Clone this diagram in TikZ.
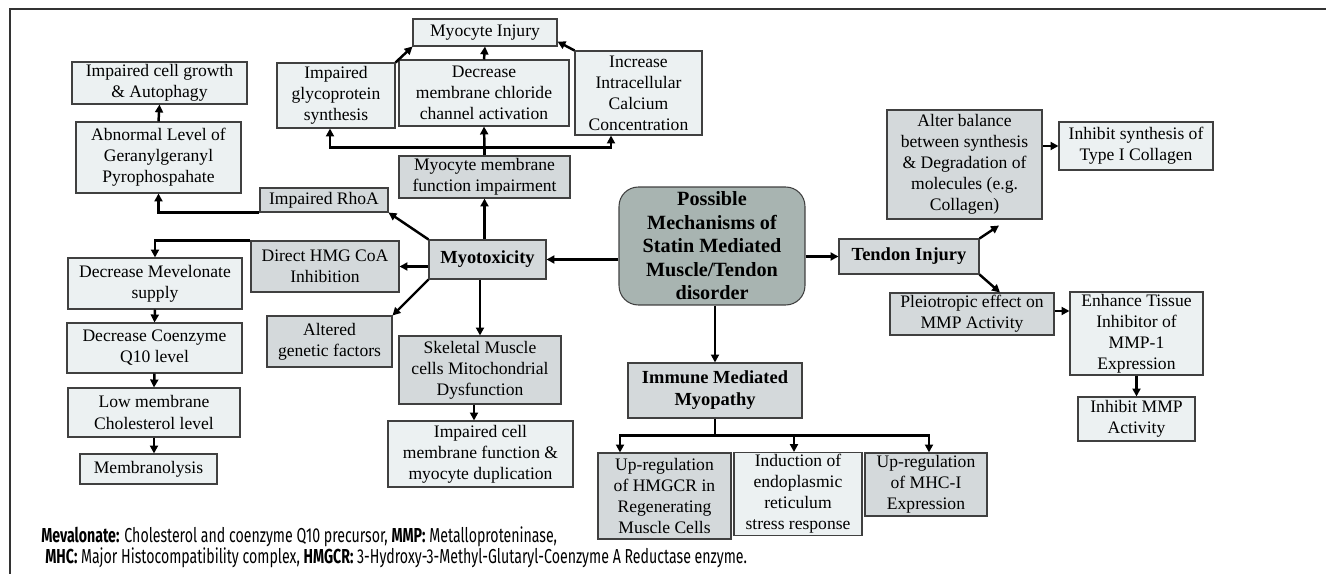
\documentclass[tikz,border=0pt]{standalone}
\usepackage{fontspec}
\setmainfont{Liberation Serif}
\newfontfamily\legendfont[FakeStretch=0.7]{Fira Sans}
\usetikzlibrary{arrows.meta, positioning, calc}
\definecolor{boxlight}{RGB}{236,241,242}
\definecolor{boxdark}{RGB}{212,217,219}
\definecolor{boxmain}{RGB}{168,180,177}

\begin{document}
\begin{tikzpicture}[x=0.02cm, y=-0.02cm,
    box/.style={rectangle, draw=black!75, line width=0.6pt, align=center, inner sep=1pt, font=\fontsize{10}{12}\selectfont},
    lightbox/.style={box, fill=boxlight},
    darkbox/.style={box, fill=boxdark},
    boldtxt/.style={font=\fontsize{10.5}{12.5}\selectfont\bfseries},
    arr/.style={-{Triangle[length=4.5pt,width=4.5pt]}, line width=1.4pt},
    bar/.style={line width=1.4pt}]
    \useasboundingbox (0,0) rectangle (1326,574);

    % Cornice
    \draw[line width=0.8pt, black!80] (10,574) -- (10,9) -- (1326,9);

    % Box principale
    \node[box, rounded corners=11pt, fill=boxmain, minimum width=3.72cm, minimum height=2.36cm, font=\fontsize{11.5}{13.4}\selectfont\bfseries] (main) at (712,246) {Possible\\Mechanisms of\\Statin Mediated\\Muscle/Tendon\\disorder};

    % Miotossicita
    \node[darkbox, boldtxt, minimum width=2.34cm, minimum height=0.78cm] (myotox) at (487.5,259.5) {Myotoxicity};
    \node[darkbox, minimum width=3.42cm, minimum height=0.84cm] (membrane) at (484.5,177) {Myocyte membrane\\function impairment};
    \node[lightbox, minimum width=2.36cm, minimum height=1.3cm] (glyco) at (336,95.5) {Impaired\\glycoprotein\\synthesis};
    \node[lightbox, minimum width=3.4cm, minimum height=1.32cm] (chloride) at (484,93) {Decrease\\membrane chloride\\channel activation};
    \node[lightbox, minimum width=2.54cm, minimum height=1.68cm] (calcium) at (638.5,93) {Increase\\Intracellular\\Calcium\\Concentration};
    \node[lightbox, minimum width=2.88cm, minimum height=0.54cm] (injury) at (485,32.5) {Myocyte Injury};
    \node[darkbox, minimum width=2.56cm, minimum height=0.48cm] (rhoa) at (324,200) {Impaired RhoA};
    \node[lightbox, minimum width=3.3cm, minimum height=1.42cm] (ggpp) at (158.5,157.5) {Abnormal Level of\\Geranylgeranyl\\Pyrophospahate};
    \node[lightbox, minimum width=3.5cm, minimum height=0.84cm] (growth) at (159.5,83) {Impaired cell growth\\\& Autophagy};
    \node[darkbox, minimum width=2.96cm, minimum height=1.02cm] (hmg) at (325,266.5) {Direct HMG CoA\\Inhibition};
    \node[lightbox, minimum width=3.48cm, minimum height=1.02cm] (mev) at (155,283.5) {Decrease Mevelonate\\supply};
    \node[lightbox, minimum width=3.5cm, minimum height=1.0cm] (coq) at (154.5,348) {Decrease Coenzyme\\Q10 level};
    \node[lightbox, minimum width=3.44cm, minimum height=0.98cm] (chol) at (154,412.5) {Low membrane\\Cholesterol level};
    \node[lightbox, minimum width=2.74cm, minimum height=0.6cm] (lysis) at (148.5,469) {Membranolysis};
    \node[darkbox, minimum width=2.5cm, minimum height=1.02cm] (genetic) at (329.5,341.5) {Altered\\genetic factors};
    \node[darkbox, minimum width=3.24cm, minimum height=1.36cm] (skeletal) at (480,370) {Skeletal Muscle\\cells Mitochondrial\\Dysfunction};
    \node[lightbox, minimum width=3.7cm, minimum height=1.32cm] (impaired) at (480.5,454) {Impaired cell\\membrane function \&\\myocyte duplication};

    % Miopatia immuno-mediata
    \node[darkbox, boldtxt, minimum width=3.48cm, minimum height=1.1cm] (immune) at (715,390.5) {Immune Mediated\\Myopathy};
    \node[darkbox, minimum width=2.66cm, minimum height=1.72cm] (hmgcr) at (664.5,496) {Up-regulation\\of HMGCR in\\Regenerating\\Muscle Cells};
    \node[lightbox, minimum width=2.56cm, minimum height=1.64cm] (er) at (798,494) {Induction of\\endoplasmic\\reticulum\\stress response};
    \node[darkbox, minimum width=2.44cm, minimum height=1.26cm] (mhc) at (926,484.5) {Up-regulation\\of MHC-I\\Expression};

    % Tendine
    \node[darkbox, boldtxt, minimum width=2.8cm, minimum height=0.7cm] (tendon) at (909,256.5) {Tendon Injury};
    \node[darkbox, minimum width=3.1cm, minimum height=2.18cm] (alter) at (964.5,164.5) {Alter balance\\between synthesis\\\& Degradation of\\molecules (e.g.\\Collagen)};
    \node[lightbox, minimum width=3.08cm, minimum height=0.96cm] (collagen) at (1136,146) {Inhibit synthesis of\\Type I Collagen};
    \node[darkbox, minimum width=3.28cm, minimum height=0.84cm] (pleio) at (972,314) {Pleiotropic effect on\\MMP Activity};
    \node[lightbox, minimum width=2.66cm, minimum height=1.66cm] (tissue) at (1136.5,333.5) {Enhance Tissue\\Inhibitor of\\MMP-1\\Expression};
    \node[lightbox, minimum width=2.34cm, minimum height=0.88cm] (inhibit) at (1136.5,419) {Inhibit MMP\\Activity};

    % Connessioni dal box principale
    \draw[arr] (main.west |- myotox.east) -- (myotox.east);
    \draw[arr] (main.east |- tendon.west) -- (tendon.west);
    \draw[arr] (immune.north |- main.south) -- (immune.north);

    % Connessioni miotossicita
    \draw[arr] (membrane.south |- myotox.north) -- (membrane.south);
    \coordinate (mbus) at ($(membrane.north)+(0,-8)$);
    \draw[bar] (membrane.north) -- (mbus);
    \draw[arr] (mbus) -| ([xshift=-0.12cm]glyco.south);
    \draw[arr] (mbus) -- (chloride.south);
    \draw[arr] (mbus) -| ([xshift=-0.55cm]calcium.south);
    \draw[arr] (glyco.north east) -- (injury.south west);
    \draw[arr] (chloride.north) -- (injury.south);
    \draw[arr] (calcium.north west) -- ([yshift=0.1cm]injury.south east);
    \draw[arr] (myotox.north west) -- (rhoa.south east);
    \draw[arr] (rhoa.south west) -| (ggpp.south);
    \draw[arr] (ggpp.north) -- (growth.south);
    \draw[arr] (myotox.west |- hmg.east) -- (hmg.east);
    \draw[arr] (hmg.north west) -| (mev.north);
    \draw[arr] (mev.south) -- (coq.north);
    \draw[arr] (coq.south) -- (chol.north);
    \draw[arr] (chol.south) -- (chol.south |- lysis.north);
    \draw[arr] (myotox.south west) -- (genetic.north east);
    \draw[arr] (skeletal.north |- myotox.south) -- (skeletal.north);
    \draw[arr] ([xshift=-0.12cm]skeletal.south) -- ([xshift=-0.12cm]skeletal.south |- impaired.north);

    % Connessioni miopatia
    \coordinate (ibus) at ($(immune.south)+(0,17)$);
    \draw[bar] (immune.south) -- (ibus);
    \draw[arr] (ibus) -| ([xshift=-0.89cm]hmgcr.north);
    \draw[arr] (ibus) -| ([xshift=-0.08cm]er.north);
    \draw[arr] (ibus) -| ([xshift=0.06cm]mhc.north);

    % Connessioni tendine
    \draw[arr] (tendon.north east) -- ([xshift=0.69cm,yshift=-0.12cm]alter.south);
    \draw[arr] (tendon.south east) -- ([xshift=0.56cm]pleio.north);
    \draw[arr] (alter.east |- collagen.west) -- (collagen.west);
    \draw[arr] (pleio.east |- 0,311) -- (tissue.west |- 0,311);
    \draw[arr] (tissue.south) -- (inhibit.north);

    % Legenda
    \node[anchor=west, inner sep=0pt, font=\legendfont\fontsize{11.5}{13}\selectfont] (leg1) at (41,537) {\textbf{Mevalonate:} Cholesterol and coenzyme Q10 precursor, \textbf{MMP:} Metalloproteninase,};
    \node[anchor=west, inner sep=0pt, font=\legendfont\fontsize{11.5}{13}\selectfont] (leg2) at (45,558) {\textbf{MHC:} Major Histocompatibility complex, \textbf{HMGCR:} 3-Hydroxy-3-Methyl-Glutaryl-Coenzyme A Reductase enzyme.};
\end{tikzpicture}
\end{document}
